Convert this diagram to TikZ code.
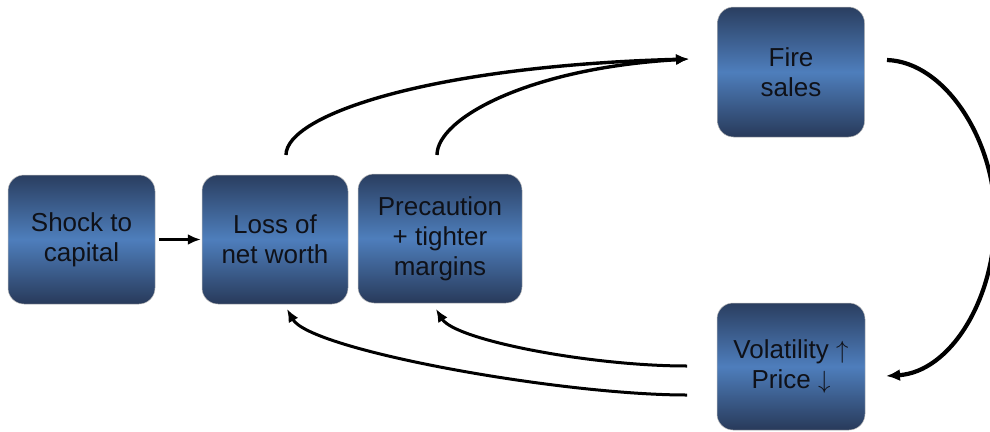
\documentclass[tikz,border=0pt]{standalone}
\usepackage{fontspec}
\setmainfont{Liberation Sans}
\usetikzlibrary{arrows.meta,shadings}
\definecolor{topc}{RGB}{42,62,96}
\definecolor{midc}{RGB}{78,126,188}
\definecolor{botc}{RGB}{40,58,90}
\definecolor{txtc}{RGB}{15,17,24}
\tikzset{
  box/.style={rounded corners=16pt, draw=gray!55, line width=0.5pt,
    top color=topc, bottom color=botc, middle color=midc,
    align=center, text=txtc, inner sep=0pt,
    font=\fontsize{26}{30}\selectfont},
  arr/.style={line width=3.4pt, -{Latex[length=13pt,width=11pt]}},
  arcarr/.style={line width=4.2pt, -{Latex[length=14pt,width=12pt]}}
}
\begin{document}
\begin{tikzpicture}[x=1pt,y=-1pt]
\useasboundingbox (0,0) rectangle (990,431);
\node[box, minimum width=147pt, minimum height=129pt] (shock) at (81.5,239.5) {Shock to\\capital};
\node[box, minimum width=146pt, minimum height=129pt] (loss) at (275,239.5) {Loss of\\net worth};
\node[box, minimum width=164pt, minimum height=129pt] (prec) at (440,238.5) {Precaution\\+ tighter\\margins};
\node[box, minimum width=147pt, minimum height=130pt] (fire) at (791,72) {Fire\\sales};
\node[box, minimum width=148pt, minimum height=127pt] (vol) at (791,366.5) {Volatility $\uparrow$\\Price $\downarrow$};
% named connector ends
\coordinate (lossOut) at (286,155);
\coordinate (precOut) at (437,155);
\coordinate (fireIn) at (689,59);
\coordinate (fireOut) at (887,60);
\coordinate (arcMid) at (995,218);
\coordinate (volIn) at (886,376);
\coordinate (volOutA) at (687,395);
\coordinate (volOutB) at (687,366);
\coordinate (lossIn) at (287,309);
\coordinate (precIn) at (436,309);
% connectors
\draw[arr, shorten <=4pt, shorten >=1pt] (shock.east) -- (loss.west);
\draw[arr] (lossOut) .. controls (286,115) and (430,66) .. (fireIn);
\draw[arr] (precOut) .. controls (437,118) and (530,68) .. (fireIn);
\draw[arcarr] (fireOut) .. controls (945,62) and (995,140) .. (arcMid)
  .. controls (995,300) and (950,372) .. (volIn);
\draw[arr, line width=3pt] (volOutA) .. controls (560,395) and (310,350) .. (lossIn);
\draw[arr, line width=3pt] (volOutB) .. controls (590,366) and (455,340) .. (precIn);
\end{tikzpicture}
\end{document}
